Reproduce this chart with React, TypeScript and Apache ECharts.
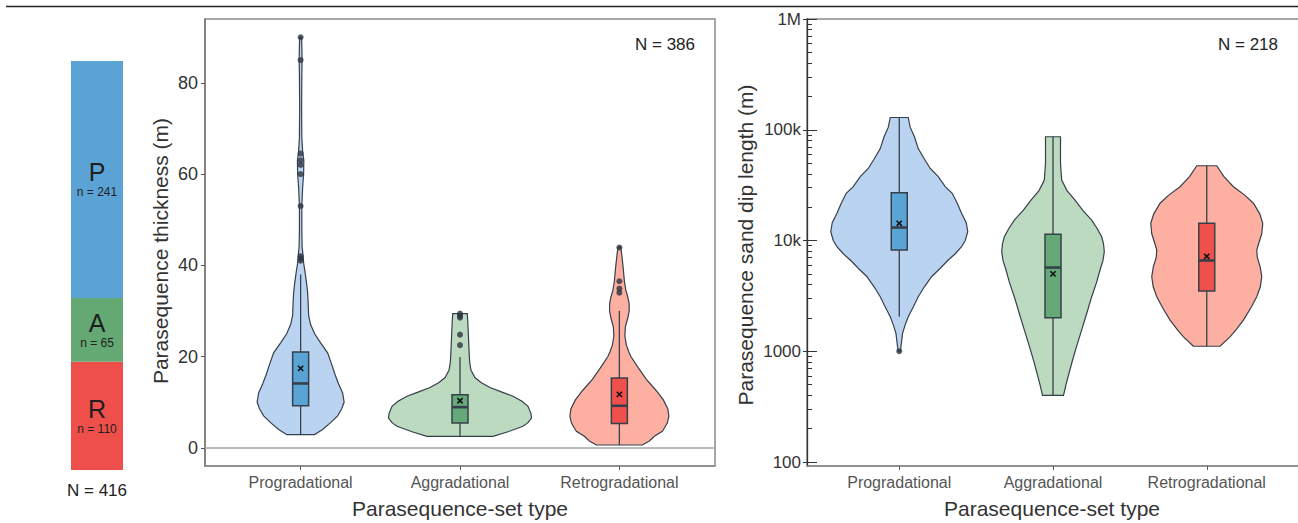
import React, { useEffect, useRef } from "react";
import * as echarts from "echarts";

// ---------------- data ----------------
const CATEGORIES = ["Progradational", "Aggradational", "Retrogradational"];

const STACK_LABELS = ["P", "A", "R"];
const STACK_COUNTS = [241, 65, 110];
const STACK_TOTAL = 416;

const THICK_N = 386;
const DIP_N = 218;

const THICK_TICKS = [0, 20, 40, 60, 80];
const DIP_TICKS = [100, 1000, 10000, 100000, 1000000];
const DIP_TICK_LABELS = ["100", "1000", "10k", "100k", "1M"];

// violin outlines: [value, half-width density]
const THICK_PRO_PROFILE = [
  [2.9, 14], [4, 22], [5.5, 30], [7, 37], [8.5, 41], [10, 43.5], [12, 42], [14, 38],
  [16, 34.5], [18, 31.5], [20.8, 27], [23, 20], [25, 14], [27, 10], [29, 8], [32, 7.5],
  [34, 7], [36, 6], [38.4, 4.5], [40.5, 3], [42, 2.5], [44, 1.5], [48, 1.2], [53, 1.2],
  [57, 2], [60, 3], [63, 3.2], [65, 2], [68, 1.2], [75, 1], [82, 1.2], [85, 1.5], [88, 1.2], [90, 1],
];
const THICK_AGG_PROFILE = [
  [2.5, 33], [3.5, 48], [4.7, 63], [5.5, 68], [6.5, 71.5], [7.5, 71], [9.1, 68], [10.2, 62],
  [11.3, 53], [12.2, 42], [13.2, 30], [14.3, 21], [15.4, 15], [17, 11], [18.5, 9.8], [20, 9.3],
  [22.5, 8.8], [25.2, 8.3], [27.5, 7.8], [29.4, 7.3],
];
const THICK_RET_PROFILE = [
  [0.6, 23], [1.5, 30], [2.5, 35], [3.6, 43], [4.5, 45.5], [5.5, 48], [6.9, 49.5], [8.5, 48.5],
  [10.5, 44], [12.5, 37], [15, 27], [17.5, 19], [20, 11.5], [21, 9.5], [22.5, 7], [24.5, 5.5],
  [26.5, 6], [28.5, 8.5], [30, 9.8], [31.5, 9.8], [33, 8.5], [34.5, 6.5], [36.5, 5], [39, 4],
  [41.5, 2.8], [43, 2], [44, 1.2],
];

const DIP_PRO_PROFILE = [
  [1000, 1.2], [1100, 1.7], [1260, 2.5], [1450, 3.3], [1740, 6], [2050, 9], [2510, 14], [3110, 19],
  [3800, 25], [4710, 32.3], [5620, 41], [6670, 49], [7590, 56], [8790, 62.3], [10000, 66], [12000, 68.5],
  [14500, 67], [17600, 62.3], [21700, 58], [26700, 53], [30600, 46], [37700, 39], [44700, 31],
  [53300, 25.7], [67600, 19], [86500, 15.2], [105000, 11], [129000, 9],
];
const DIP_AGG_PROFILE = [
  [400, 10.5], [500, 13], [780, 18.7], [1100, 23.5], [1560, 28.7], [2240, 34], [3110, 38.7], [4170, 43.5],
  [5420, 47], [6610, 50], [7930, 51.3], [9330, 50.5], [10800, 48.7], [12900, 44], [15300, 38.7],
  [18600, 30], [23200, 22], [28200, 14], [35200, 8.7], [49800, 7.5], [63100, 7.5], [86500, 7.5],
];
const DIP_RET_PROFILE = [
  [1110, 13.3], [1350, 23.3], [1590, 30], [1910, 36.7], [2460, 44], [3110, 50], [3800, 53.5], [4710, 55],
  [5750, 53.5], [7080, 50.5], [8200, 50], [9440, 52], [11500, 55], [14300, 56], [17400, 53],
  [21700, 46.7], [25700, 38], [30600, 26.7], [38000, 17], [47300, 10],
];

// box stats: [lower whisker, Q1, median, Q3, upper whisker, mean]
const THICK_BOX = [
  [2.9, 9.2, 14.1, 21.0, 38, 17.4],
  [2.5, 5.4, 8.9, 11.6, 19.9, 10.3],
  [0.6, 5.3, 9.2, 15.3, 30, 11.7],
];
const THICK_OUTLIERS = [
  [41, 41.5, 42, 53, 60, 62, 63, 64.5, 85, 90],
  [22.5, 24.8, 28.5, 28.9, 29.4],
  [34, 34.9, 36.5, 43.9],
];
const DIP_BOX = [
  [2050, 8200, 13100, 27000, 129000, 14300],
  [400, 2010, 5700, 11400, 86500, 5000],
  [1110, 3500, 6600, 14300, 47300, 7200],
];
const DIP_OUTLIERS = [[1000], [], []];

// ---------------- styles ----------------
const VIOLIN_FILLS = ["#bad3f1", "#bbdabf", "#fdb0a2"];
const BOX_FILLS = ["#5aa3d5", "#64a977", "#ef504b"];
const STACK_COLORS = { P: "#5ba3d5", A: "#64a973", R: "#ef4f4a" };
const STROKE = "#36404a";
const SANS = '"Liberation Sans", Arial, Helvetica, sans-serif';
const BOX_HALF = 8;
const THICK_DENSITY_SCALE = 1 / 159.4;
const DIP_DENSITY_SCALE = 1 / 153.75;

const ident = (v: number) => v;
const lg = (v: number) => Math.log10(v);

function violinRender(profiles: number[][][], tf: (v: number) => number, scale: number) {
  return (params: any, api: any) => {
    const i = api.value(0);
    const prof = profiles[i];
    const pts: number[][] = [];
    for (let k = 0; k < prof.length; k++) pts.push(api.coord([i - prof[k][1] * scale, tf(prof[k][0])]));
    for (let k = prof.length - 1; k >= 0; k--) pts.push(api.coord([i + prof[k][1] * scale, tf(prof[k][0])]));
    return {
      type: "polygon",
      shape: { points: pts },
      style: { fill: VIOLIN_FILLS[i], stroke: STROKE, lineWidth: 1.2 },
    };
  };
}

function boxRender(stats: number[][], tf: (v: number) => number) {
  return (params: any, api: any) => {
    const i = api.value(0);
    const [lo, q1, med, q3, hi, mean] = stats[i];
    const pLo = api.coord([i, tf(lo)]);
    const pHi = api.coord([i, tf(hi)]);
    const pQ1 = api.coord([i, tf(q1)]);
    const pQ3 = api.coord([i, tf(q3)]);
    const pMed = api.coord([i, tf(med)]);
    const pMean = api.coord([i, tf(mean)]);
    const cx = pLo[0];
    const m = 2.6;
    return {
      type: "group",
      children: [
        { type: "line", shape: { x1: cx, y1: pHi[1], x2: cx, y2: pLo[1] }, style: { stroke: STROKE, lineWidth: 1.3 } },
        {
          type: "rect",
          shape: { x: cx - BOX_HALF, y: pQ3[1], width: BOX_HALF * 2, height: pQ1[1] - pQ3[1] },
          style: { fill: BOX_FILLS[i], stroke: STROKE, lineWidth: 1.5 },
        },
        { type: "line", shape: { x1: cx - BOX_HALF, y1: pMed[1], x2: cx + BOX_HALF, y2: pMed[1] }, style: { stroke: STROKE, lineWidth: 2.6 } },
        { type: "line", shape: { x1: cx - m, y1: pMean[1] - m, x2: cx + m, y2: pMean[1] + m }, style: { stroke: "#111", lineWidth: 1.6 } },
        { type: "line", shape: { x1: cx - m, y1: pMean[1] + m, x2: cx + m, y2: pMean[1] - m }, style: { stroke: "#111", lineWidth: 1.6 } },
      ],
    };
  };
}

function buildOption() {
  const catIdx = CATEGORIES.map((_, i) => [i, 0]);
  const thickOut: number[][] = [];
  THICK_OUTLIERS.forEach((arr, i) => arr.forEach((v) => thickOut.push([i, v])));
  const dipOut: number[][] = [];
  DIP_OUTLIERS.forEach((arr, i) => arr.forEach((v) => dipOut.push([i, lg(v)])));

  const dipMajor = DIP_TICKS.map(lg);
  const dipMinor: number[] = [];
  for (let e = 2; e < 6; e++) for (let k = 2; k <= 9; k++) dipMinor.push(Math.log10(k * Math.pow(10, e)));

  const stackOrder = [2, 1, 0]; // R bottom, A, P top

  const catLabel = (v: number) => CATEGORIES[Math.round(v)] ?? "";
  const catXAxis = (gridIndex: number) => ({
    type: "value",
    gridIndex,
    position: "bottom",
    min: -0.6,
    max: 2.6,
    splitLine: { show: false },
    axisLine: { show: true, onZero: false, lineStyle: { color: "#8a8a8a", width: 1.5 } },
    axisTick: { show: true, customValues: [0, 1, 2], length: 4, lineStyle: { color: "#555" } },
    axisLabel: {
      show: true,
      customValues: [0, 1, 2],
      formatter: catLabel,
      margin: 8,
      color: "#555",
      fontFamily: SANS,
      fontSize: 16,
    },
  });

  const dipTickAxis = (values: number[], length: number) => ({
    type: "value",
    gridIndex: 2,
    position: "left",
    offset: 0,
    min: 1.964,
    max: 6,
    splitLine: { show: false },
    axisLine: { show: false, onZero: false },
    axisLabel: { show: false },
    axisTick: { show: true, inside: true, customValues: values, length, lineStyle: { color: "#333" } },
  });

  return {
    animation: false,
    grid: [
      { left: 71, top: 61, width: 52, height: 409, outerBoundsMode: "none" },
      { left: 205, top: 19, width: 510, height: 447, show: true, borderColor: "#8a8a8a", borderWidth: 1.5, backgroundColor: "transparent", outerBoundsMode: "none" },
      { left: 807, top: 19, width: 492, height: 447, show: true, borderColor: "#8a8a8a", borderWidth: 1.5, backgroundColor: "transparent", outerBoundsMode: "none" },
    ],
    xAxis: [
      { type: "category", gridIndex: 0, data: ["all"], show: false },
      catXAxis(1),
      catXAxis(2),
    ],
    yAxis: [
      { type: "value", gridIndex: 0, min: 0, max: STACK_TOTAL, show: false },
      {
        type: "value",
        gridIndex: 1,
        position: "left",
        min: -4,
        max: 94,
        splitLine: { show: false },
        axisLine: { show: true, onZero: false, lineStyle: { color: "#777", width: 1.5 } },
        axisTick: { show: true, customValues: THICK_TICKS, length: 4, lineStyle: { color: "#555" } },
        axisLabel: { show: true, customValues: THICK_TICKS, margin: 7, color: "#333", fontFamily: SANS, fontSize: 18 },
      },
      {
        type: "value",
        gridIndex: 2,
        position: "left",
        offset: 0,
        min: 1.964,
        max: 6,
        splitLine: { show: false },
        axisLine: { show: true, onZero: false, lineStyle: { color: "#333", width: 1.3 } },
        axisTick: { show: true, customValues: dipMajor, length: 4, lineStyle: { color: "#333" } },
        axisLabel: {
          show: true,
          customValues: dipMajor,
          margin: 6,
          color: "#333",
          fontFamily: SANS,
          fontSize: 17,
          formatter: (v: number) => {
            const k = dipMajor.findIndex((t) => Math.abs(t - v) < 1e-6);
            return k >= 0 ? DIP_TICK_LABELS[k] : "";
          },
        },
      },
      dipTickAxis(dipMajor, 10),
      dipTickAxis(dipMinor, 5),
    ],
    series: [
      ...stackOrder.map((k) => ({
        type: "bar",
        name: STACK_LABELS[k],
        xAxisIndex: 0,
        yAxisIndex: 0,
        stack: "ps",
        barWidth: "100%",
        data: [STACK_COUNTS[k]],
        itemStyle: { color: (STACK_COLORS as any)[STACK_LABELS[k]] },
        label: {
          show: true,
          position: "inside",
          formatter: `{b|${STACK_LABELS[k]}}\n{s|n = ${STACK_COUNTS[k]}}`,
          rich: {
            b: { fontSize: 25, lineHeight: 26, color: "#1e1e1e", fontFamily: SANS },
            s: { fontSize: 12, lineHeight: 14, color: "#1e1e1e", fontFamily: SANS },
          },
        },
      })),
      {
        type: "custom",
        xAxisIndex: 1,
        yAxisIndex: 1,
        data: catIdx,
        renderItem: violinRender([THICK_PRO_PROFILE, THICK_AGG_PROFILE, THICK_RET_PROFILE], ident, THICK_DENSITY_SCALE),
        z: 2,
      },
      {
        type: "custom",
        xAxisIndex: 1,
        yAxisIndex: 1,
        data: catIdx,
        renderItem: boxRender(THICK_BOX, ident),
        z: 3,
      },
      {
        type: "scatter",
        xAxisIndex: 1,
        yAxisIndex: 1,
        data: thickOut,
        symbol: "circle",
        symbolSize: 6,
        itemStyle: { color: "#2c3440" },
        z: 4,
        markLine: {
          silent: true,
          symbol: "none",
          label: { show: false },
          lineStyle: { color: "#a6a6a6", width: 1.5, type: "solid" },
          data: [{ yAxis: 0 }],
        },
      },
      {
        type: "custom",
        xAxisIndex: 2,
        yAxisIndex: 2,
        data: catIdx,
        renderItem: violinRender([DIP_PRO_PROFILE, DIP_AGG_PROFILE, DIP_RET_PROFILE], lg, DIP_DENSITY_SCALE),
        z: 2,
      },
      {
        type: "custom",
        xAxisIndex: 2,
        yAxisIndex: 2,
        data: catIdx,
        renderItem: boxRender(DIP_BOX, lg),
        z: 3,
      },
      {
        type: "scatter",
        xAxisIndex: 2,
        yAxisIndex: 2,
        data: dipOut,
        symbol: "circle",
        symbolSize: 6,
        itemStyle: { color: "#2c3440" },
        z: 4,
      },
    ],
    graphic: [
      { type: "line", shape: { x1: 6, y1: 6.5, x2: 1298, y2: 6.5 }, style: { stroke: "#222", lineWidth: 1.5 } },
      {
        type: "text",
        x: 97,
        y: 490,
        style: { text: `N = ${STACK_TOTAL}`, fill: "#222", font: `17px ${SANS}`, textAlign: "center", textVerticalAlign: "middle" },
      },
      {
        type: "text",
        x: 695,
        y: 44,
        style: { text: `N = ${THICK_N}`, fill: "#222", font: `17px ${SANS}`, textAlign: "right", textVerticalAlign: "middle" },
      },
      {
        type: "text",
        x: 1278,
        y: 44,
        style: { text: `N = ${DIP_N}`, fill: "#222", font: `17px ${SANS}`, textAlign: "right", textVerticalAlign: "middle" },
      },
      {
        type: "text",
        x: 160,
        y: 251,
        rotation: Math.PI / 2,
        style: { text: "Parasequence thickness (m)", fill: "#333", font: `21px ${SANS}`, textAlign: "center", textVerticalAlign: "middle" },
      },
      {
        type: "text",
        x: 745,
        y: 245,
        rotation: Math.PI / 2,
        style: { text: "Parasequence sand dip length (m)", fill: "#333", font: `21px ${SANS}`, textAlign: "center", textVerticalAlign: "middle" },
      },
      {
        type: "text",
        x: 460,
        y: 508,
        style: { text: "Parasequence-set type", fill: "#333", font: `21px ${SANS}`, textAlign: "center", textVerticalAlign: "middle" },
      },
      {
        type: "text",
        x: 1052,
        y: 508,
        style: { text: "Parasequence-set type", fill: "#333", font: `21px ${SANS}`, textAlign: "center", textVerticalAlign: "middle" },
      },
    ],
  };
}

export default function App() {
  const ref = useRef<HTMLDivElement>(null);
  useEffect(() => {
    if (!ref.current) return;
    const chart = echarts.init(ref.current, undefined, { renderer: "svg" });
    chart.setOption(buildOption() as any);
    return () => chart.dispose();
  }, []);
  return (
    <div
      ref={ref}
      style={{ position: "fixed", left: 0, top: 0, width: 1298, height: 523, background: "#fff" }}
    />
  );
}
